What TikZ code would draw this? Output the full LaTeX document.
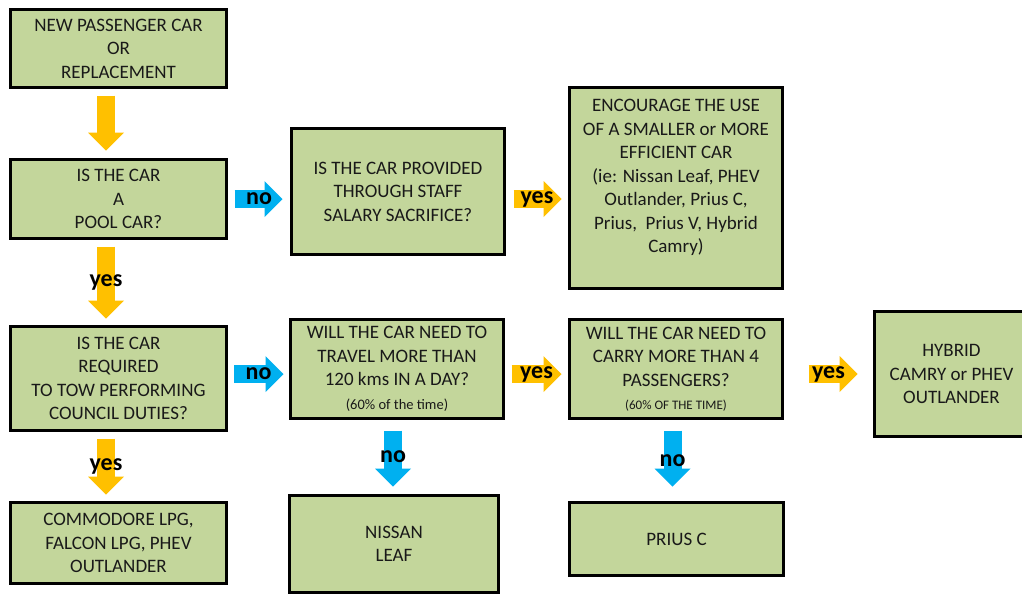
\documentclass[tikz,border=0pt]{standalone}
\usepackage{fontspec}
\setmainfont{Carlito}
\usepackage{xcolor}
\usepackage{tikz}
\usetikzlibrary{arrows.meta,positioning,calc}
\definecolor{boxgreen}{HTML}{C3D69B}
\definecolor{yesorange}{HTML}{FFC000}
\definecolor{noblue}{HTML}{00B0F0}
\newcommand{\pcttxt}[1]{{\fontsize{14.5}{17}\selectfont #1}}
\newcommand{\pctcaps}[1]{{\fontsize{13}{15}\selectfont #1}}
\tikzset{
  box/.style  ={draw, line width=3pt, fill=boxgreen, align=center, inner sep=0pt, text=black!90, font=\fontsize{19}{23.5}\selectfont},
  yarr/.style ={line width=18pt, draw=yesorange, -{Triangle[length=18pt, width=36pt, line width=0pt]}},
  narr/.style ={line width=18pt, draw=noblue, -{Triangle[length=18pt, width=36pt, line width=0pt]}},
  lbl/.style  ={font=\bfseries\fontsize{24}{24}\selectfont, text=black, inner sep=0pt},
}
\begin{document}
\begin{tikzpicture}[x=1pt, y=-1pt]
  \path[use as bounding box, fill=white] (0,0) rectangle (1022,595);
  \node[box, minimum width=216pt, minimum height=78pt]  (newcar)  at (118.5,48.5) {NEW PASSENGER CAR\\OR\\REPLACEMENT};
  \node[box, minimum width=216pt, minimum height=79pt]  (pool)    at (118.5,199)  {IS THE CAR\\A\\POOL CAR?};
  \node[box, minimum width=213pt, minimum height=126pt] (salary)  at (398,191.5)  {IS THE CAR PROVIDED\\THROUGH STAFF\\SALARY SACRIFICE?};
  \node[box, minimum width=213pt, minimum height=201pt] (smaller) at (676,188)    {ENCOURAGE THE USE\\OF A SMALLER or MORE\\EFFICIENT CAR\\(ie: Nissan Leaf, PHEV\\Outlander, Prius C,\\Prius,\ \ Prius V, Hybrid\\Camry)\\ \mbox{}};
  \node[box, minimum width=216pt, minimum height=104pt] (tow)     at (118.5,378.5) {IS THE CAR\\REQUIRED\\TO TOW PERFORMING\\COUNCIL DUTIES?};
  \node[box, minimum width=213pt, minimum height=99pt]  (travel)  at (397,369)    {WILL THE CAR NEED TO\\TRAVEL MORE THAN\\120 kms IN A DAY?\\\pcttxt{(60\% of the time)}};
  \node[box, minimum width=213pt, minimum height=99pt]  (carry)   at (676,369)    {WILL THE CAR NEED TO\\CARRY MORE THAN 4\\PASSENGERS?\\\pctcaps{(60\% OF THE TIME)}};
  \node[box, minimum width=154pt, minimum height=125pt] (hybrid)  at (951.5,374)  {HYBRID\\CAMRY or PHEV\\OUTLANDER};
  \node[box, minimum width=216pt, minimum height=81pt]  (lpg)     at (118.5,543)  {COMMODORE LPG,\\FALCON LPG, PHEV\\OUTLANDER};
  \node[box, minimum width=209pt, minimum height=97pt]  (leaf)    at (394,544)    {NISSAN\\LEAF};
  \node[box, minimum width=214pt, minimum height=73pt]  (priusc)  at (676.5,539)  {PRIUS C};
  \draw[yarr, shorten <=6.5pt, shorten >=7.5pt] ([xshift=-12.5pt]newcar.south) -- ([xshift=-12.5pt]pool.north);
  \draw[narr, shorten <=6.5pt, shorten >=7.5pt] (pool.east) -- (salary.west |- pool.east) node[lbl, midway] {no};
  \draw[yarr, shorten <=7.5pt, shorten >=6.5pt] (salary.east |- pool.east) -- (smaller.west |- pool.east) node[lbl, midway] {yes};
  \draw[yarr, shorten <=6.5pt, shorten >=6.5pt] ([xshift=-12.5pt]pool.south) -- ([xshift=-12.5pt]tow.north) node[lbl, midway] {yes};
  \draw[narr, shorten <=6pt, shorten >=5.5pt] (tow.east |- hybrid.west) -- (travel.west |- hybrid.west) node[lbl, midway] {no};
  \draw[yarr, shorten <=6.5pt, shorten >=6.5pt] (travel.east |- hybrid.west) -- (carry.west |- hybrid.west) node[lbl, midway] {yes};
  \draw[yarr, shorten <=24.5pt, shorten >=15.5pt] (carry.east |- hybrid.west) -- (hybrid.west) node[lbl, midway] {yes};
  \draw[yarr, shorten <=6.5pt, shorten >=6.5pt] ([xshift=-12.5pt]tow.south) -- ([xshift=-12.5pt]lpg.north) node[lbl, midway] {yes};
  \draw[narr, shorten <=10.5pt, shorten >=7.5pt] ([xshift=-4pt]travel.south) -- ([xshift=-4pt]travel.south |- leaf.north) node[lbl, midway] {no};
  \draw[narr, shorten <=10.5pt, shorten >=14.5pt] ([xshift=-3.5pt]carry.south) -- ([xshift=-3.5pt]carry.south |- priusc.north) node[lbl, midway] {no};
\end{tikzpicture}
\end{document}
